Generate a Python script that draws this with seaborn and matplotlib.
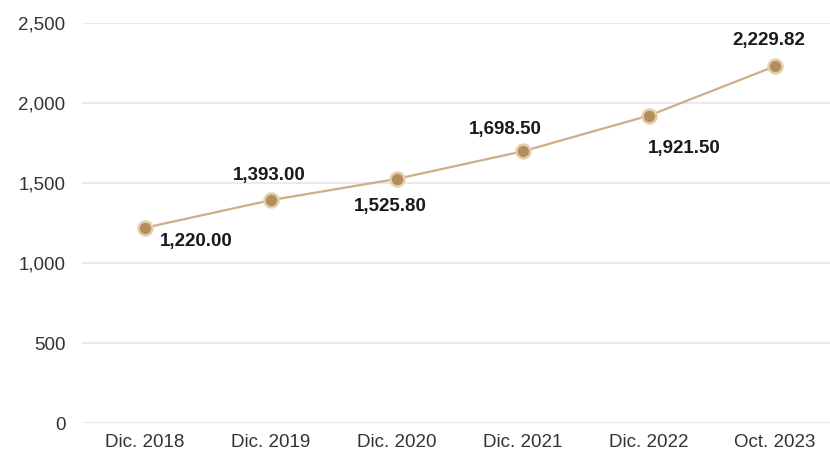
import matplotlib
matplotlib.use("Agg")
import matplotlib.pyplot as plt
import seaborn as sns
import pandas as pd

# Data
periods = ["Dic. 2018", "Dic. 2019", "Dic. 2020", "Dic. 2021", "Dic. 2022", "Oct. 2023"]
values = [1220.00, 1393.00, 1525.80, 1698.50, 1921.50, 2229.82]
labels = ["1,220.00", "1,393.00", "1,525.80", "1,698.50", "1,921.50", "2,229.82"]
yticks = [0, 500, 1000, 1500, 2000, 2500]

# label offsets (pixels from the point: right, down)
label_offsets = [(51, 14), (-2, -25), (-7, 28), (-18, -22), (35, 33), (-6, -26)]

df = pd.DataFrame({"period": periods, "value": values})

sns.set_style("white")
plt.rcParams["font.family"] = ["Liberation Sans", "DejaVu Sans"]

fig = plt.figure(figsize=(8.3, 4.58), dpi=100)
ax = fig.add_axes([82 / 830, 35 / 458, 748 / 830, 400 / 458])

sns.lineplot(data=df, x="period", y="value", ax=ax, sort=False,
             color="#cfae86", linewidth=1.6, marker="o", markersize=10,
             markerfacecolor="#b48d5e", markeredgecolor="#e3cfae",
             markeredgewidth=1.8, zorder=3)

for i, (lab, (dx, dy)) in enumerate(zip(labels, label_offsets)):
    ax.annotate(lab, (i, values[i]), xytext=(dx * 0.72, -dy * 0.72),
                textcoords="offset points", ha="center", va="center",
                fontsize=13.5, fontweight="bold", color="#1a1a1a")

ax.set_xlim(-0.5, -0.5 + 748 / 126)
ax.set_ylim(0, 2500)
ax.set_yticks(yticks)
ax.set_yticklabels([f"{t:,}" for t in yticks])
ax.yaxis.grid(True, color="#e6e6e6", linewidth=1.2)
ax.xaxis.grid(False)
ax.set_axisbelow(True)
for s in ax.spines.values():
    s.set_visible(False)
ax.tick_params(axis="both", length=0, labelsize=13.5, colors="#333333")
ax.tick_params(axis="y", pad=12)
ax.tick_params(axis="x", pad=8)
ax.set_xlabel("")
ax.set_ylabel("")

fig.savefig("out.png", dpi=100)
